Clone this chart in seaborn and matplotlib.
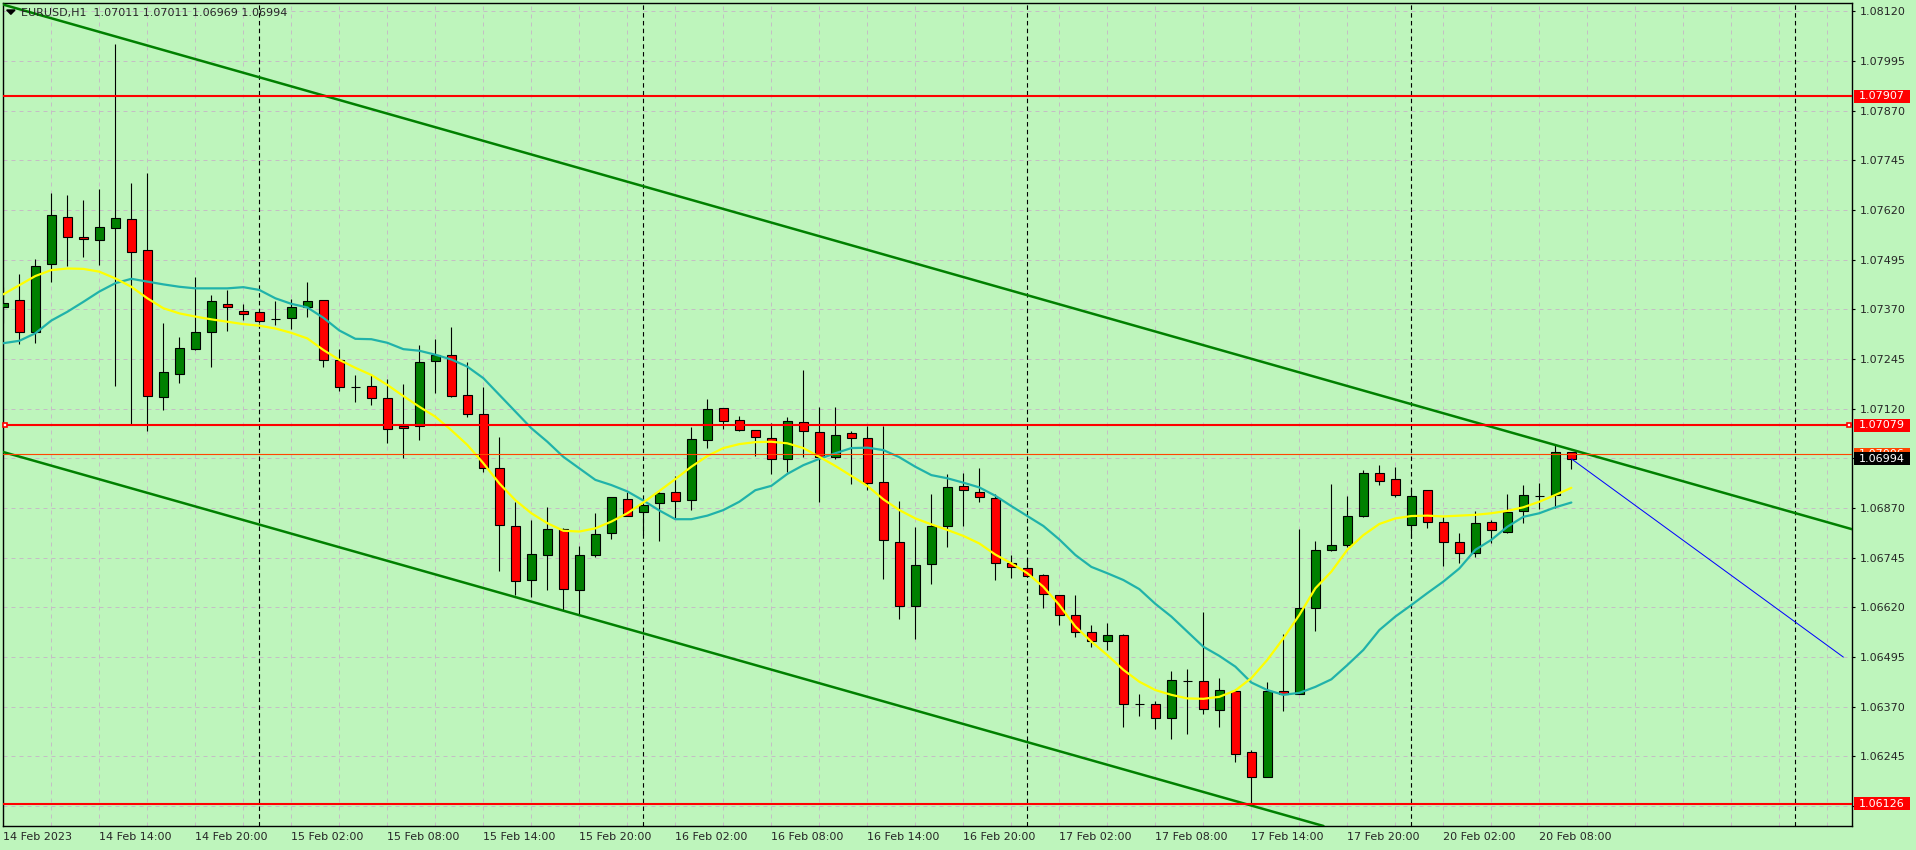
import numpy as np
import pandas as pd
import matplotlib
matplotlib.use('Agg')
import matplotlib.pyplot as plt
import matplotlib.transforms as mtransforms
from matplotlib.patches import Rectangle, Polygon
import seaborn as sns

# velas H1 do EURUSD (sem sabado/domingo)
horas = pd.date_range('2023-02-14 08:00', '2023-02-20 10:00', freq='h')
horas = horas[horas.dayofweek < 5]

opens = [1.07377, 1.07393, 1.07312, 1.07484, 1.07603, 1.07551, 1.07545, 1.07574, 1.07597, 1.07520,
         1.07150, 1.07207, 1.07271, 1.07312, 1.07383, 1.07365,
         1.07363, 1.07346, 1.07348, 1.07375, 1.07393, 1.07242, 1.07175, 1.07176, 1.07146, 1.07076,
         1.07076, 1.07239, 1.07255, 1.07154, 1.07106, 1.06971, 1.06824, 1.06688, 1.06751, 1.06817,
         1.06663, 1.06751, 1.06807, 1.06892, 1.06859, 1.06882, 1.06910, 1.06890, 1.07041, 1.07121,
         1.07091, 1.07066, 1.07046, 1.06993, 1.07086, 1.07061, 1.06998, 1.07059, 1.07046, 1.06935,
         1.06784, 1.06623, 1.06729, 1.06824, 1.06925, 1.06910, 1.06896, 1.06731, 1.06719, 1.06702,
         1.06651, 1.06600, 1.06558, 1.06536, 1.06551, 1.06378, 1.06378, 1.06341, 1.06435, 1.06434,
         1.06363, 1.06409, 1.06256, 1.06193, 1.06409, 1.06403, 1.06618, 1.06765, 1.06778, 1.06849,
         1.06958, 1.06943, 1.06827, 1.06915, 1.06834, 1.06784, 1.06757, 1.06834, 1.06811, 1.06862,
         1.06900, 1.06902, 1.07011]
highs = [1.07427, 1.07459, 1.07496, 1.07662, 1.07658, 1.07645, 1.07673, 1.08038, 1.07688, 1.07713,
         1.07337, 1.07300, 1.07452, 1.07406, 1.07419, 1.07384,
         1.07364, 1.07392, 1.07395, 1.07438, 1.07394, 1.07270, 1.07205, 1.07207, 1.07195, 1.07182,
         1.07281, 1.07296, 1.07326, 1.07238, 1.07175, 1.07049, 1.06886, 1.06840, 1.06873, 1.06819,
         1.06775, 1.06857, 1.06898, 1.06910, 1.06878, 1.06910, 1.06950, 1.07074, 1.07144, 1.07122,
         1.07102, 1.07067, 1.07085, 1.07098, 1.07218, 1.07124, 1.07124, 1.07064, 1.07076, 1.07076,
         1.06887, 1.06822, 1.06905, 1.06955, 1.06958, 1.06971, 1.06905, 1.06752, 1.06744, 1.06703,
         1.06652, 1.06652, 1.06577, 1.06582, 1.06554, 1.06402, 1.06385, 1.06460, 1.06465, 1.06609,
         1.06442, 1.06414, 1.06261, 1.06432, 1.06552, 1.06817, 1.06788, 1.06931, 1.06900, 1.06966,
         1.06978, 1.06973, 1.06921, 1.06916, 1.06847, 1.06807, 1.06863, 1.06840, 1.06905, 1.06928,
         1.06934, 1.07032, 1.07011]
lows = [1.07337, 1.07282, 1.07285, 1.07440, 1.07480, 1.07503, 1.07482, 1.07176, 1.07079, 1.07063,
        1.07117, 1.07185, 1.07268, 1.07226, 1.07316, 1.07343,
        1.07336, 1.07331, 1.07321, 1.07352, 1.07226, 1.07165, 1.07138, 1.07129, 1.07033, 1.06997,
        1.07041, 1.07160, 1.07149, 1.07098, 1.06962, 1.06712, 1.06652, 1.06645, 1.06665, 1.06614,
        1.06600, 1.06748, 1.06793, 1.06849, 1.06802, 1.06786, 1.06845, 1.06864, 1.07020, 1.07070,
        1.07063, 1.07002, 1.06957, 1.06962, 1.06999, 1.06886, 1.06993, 1.06931, 1.06916, 1.06692,
        1.06590, 1.06540, 1.06678, 1.06773, 1.06826, 1.06886, 1.06688, 1.06694, 1.06696, 1.06619,
        1.06575, 1.06546, 1.06521, 1.06512, 1.06318, 1.06347, 1.06315, 1.06290, 1.06302, 1.06353,
        1.06320, 1.06232, 1.06126, 1.06192, 1.06359, 1.06402, 1.06561, 1.06762, 1.06773, 1.06848,
        1.06929, 1.06898, 1.06794, 1.06819, 1.06725, 1.06731, 1.06748, 1.06783, 1.06808, 1.06832,
        1.06868, 1.06869, 1.06969]
closes = [1.07386, 1.07312, 1.07479, 1.07607, 1.07551, 1.07546, 1.07577, 1.07599, 1.07515, 1.07153,
          1.07212, 1.07272, 1.07312, 1.07390, 1.07375, 1.07358,
          1.07340, 1.07345, 1.07375, 1.07390, 1.07242, 1.07174, 1.07175, 1.07146, 1.07068, 1.07071,
          1.07237, 1.07255, 1.07151, 1.07106, 1.06971, 1.06827, 1.06686, 1.06754, 1.06817, 1.06666,
          1.06751, 1.06804, 1.06897, 1.06850, 1.06877, 1.06909, 1.06887, 1.07044, 1.07119, 1.07088,
          1.07066, 1.07048, 1.06993, 1.07088, 1.07064, 1.06998, 1.07054, 1.07046, 1.06932, 1.06789,
          1.06623, 1.06726, 1.06824, 1.06922, 1.06915, 1.06898, 1.06731, 1.06721, 1.06698, 1.06654,
          1.06600, 1.06558, 1.06536, 1.06551, 1.06376, 1.06377, 1.06341, 1.06437, 1.06434, 1.06365,
          1.06411, 1.06251, 1.06193, 1.06409, 1.06402, 1.06618, 1.06765, 1.06778, 1.06849, 1.06958,
          1.06939, 1.06904, 1.06901, 1.06834, 1.06784, 1.06757, 1.06832, 1.06814, 1.06859, 1.06902,
          1.06901, 1.07011, 1.06994]

# medias moveis (amarela = rapida, turquesa = lenta)
ma_rapida = [1.07408, 1.07431, 1.07454, 1.07469, 1.07473, 1.07472, 1.07465, 1.07448, 1.07427, 1.07398,
             1.07373, 1.07360, 1.07352, 1.07345, 1.07339, 1.07333,
             1.07329, 1.07322, 1.07311, 1.07297, 1.07268, 1.07243, 1.07223, 1.07205, 1.07180, 1.07152,
             1.07125, 1.07100, 1.07066, 1.07029, 1.06983, 1.06932, 1.06890, 1.06857, 1.06832, 1.06813,
             1.06811, 1.06819, 1.06836, 1.06857, 1.06884, 1.06913, 1.06943, 1.06974, 1.07001, 1.07021,
             1.07031, 1.07036, 1.07037, 1.07033, 1.07021, 1.06999, 1.06976, 1.06951, 1.06926, 1.06892,
             1.06865, 1.06844, 1.06829, 1.06815, 1.06800, 1.06781, 1.06753, 1.06731, 1.06706, 1.06672,
             1.06626, 1.06572, 1.06534, 1.06500, 1.06463, 1.06433, 1.06412, 1.06400, 1.06391, 1.06390,
             1.06395, 1.06411, 1.06442, 1.06488, 1.06542, 1.06601, 1.06668, 1.06710, 1.06765, 1.06802,
             1.06830, 1.06844, 1.06850, 1.06851, 1.06849, 1.06851, 1.06853, 1.06857, 1.06863, 1.06872,
             1.06886, 1.06903, 1.06921]
ma_lenta = [1.07285, 1.07291, 1.07310, 1.07342, 1.07364, 1.07389, 1.07415, 1.07436, 1.07447, 1.07440,
            1.07433, 1.07427, 1.07423, 1.07423, 1.07423, 1.07426,
            1.07419, 1.07398, 1.07384, 1.07375, 1.07349, 1.07317, 1.07296, 1.07295, 1.07286, 1.07270,
            1.07266, 1.07256, 1.07244, 1.07226, 1.07197, 1.07155, 1.07113, 1.07071, 1.07037, 1.06999,
            1.06970, 1.06941, 1.06928, 1.06912, 1.06889, 1.06864, 1.06842, 1.06842, 1.06851, 1.06865,
            1.06886, 1.06915, 1.06926, 1.06956, 1.06978, 1.06994, 1.07008, 1.07021, 1.07022, 1.07016,
            1.06998, 1.06974, 1.06953, 1.06945, 1.06934, 1.06922, 1.06901, 1.06875, 1.06850, 1.06825,
            1.06791, 1.06752, 1.06722, 1.06706, 1.06689, 1.06666, 1.06629, 1.06597, 1.06559, 1.06521,
            1.06498, 1.06471, 1.06431, 1.06412, 1.06400, 1.06405, 1.06420, 1.06439, 1.06475, 1.06513,
            1.06563, 1.06597, 1.06626, 1.06656, 1.06685, 1.06718, 1.06765, 1.06790, 1.06823, 1.06848,
            1.06857, 1.06872, 1.06884]

# objetos desenhados no grafico
niveis = [1.07907, 1.07079, 1.06126]
preco_ask = 1.07006
canal_x = [0, 101]
canal_sup = [1.08137, 1.06983]
canal_inf = [1.07011, 1.05859]
proj_x = [98, 115]
proj_y = [1.06994, 1.06495]

FUNDO = '#BEF5BC'
GRADE = '#C4BEC4'

sns.set_style('white', {'axes.facecolor': FUNDO, 'figure.facecolor': FUNDO})
plt.rcParams['font.family'] = ['DejaVu Sans']

fig = plt.figure(figsize=(19.16, 8.5), dpi=100, facecolor=FUNDO)
ax = fig.add_axes([2.7 / 1916, 24 / 850, 1849.6 / 1916, 823.3 / 850])
ax.set_facecolor(FUNDO)
ax.set_xlim(-0.04, 115.56)
ax.set_ylim(1.060699, 1.081419)

x = np.arange(len(horas))
o = np.array(opens); h = np.array(highs); l = np.array(lows); c = np.array(closes)

# grade pontilhada
precos_grade = np.round(np.arange(1.06120, 1.081201, 0.00125), 5)
for p in precos_grade:
    ax.axhline(p, color=GRADE, lw=0.72, ls=(0, (4, 4)), zorder=0.5)
for g in range(0, 116, 3):
    ax.axvline(g, color=GRADE, lw=0.72, ls=(0, (4, 4)), zorder=0.5)
# separadores de dia
for d in range(16, 116, 24):
    ax.axvline(d, color='black', lw=0.8, ls=(0, (4, 3)), zorder=0.8)

# velas
ax.vlines(x, l, h, color='black', lw=0.8, zorder=2)
cores = np.where(c > o, '#008000', np.where(c < o, '#FF0000', 'black'))
ax.bar(x, c - o, bottom=o, width=0.6, color=cores, edgecolor='black', linewidth=0.8, zorder=3)

# medias
sns.lineplot(x=x, y=ma_lenta, color='#20B2AA', lw=1.6, ax=ax, zorder=4)
sns.lineplot(x=x, y=ma_rapida, color='#FFFF00', lw=1.6, ax=ax, zorder=4)

# canal e linhas horizontais
ax.axline((canal_x[0], canal_sup[0]), (canal_x[1], canal_sup[1]), color='#008000', lw=1.8, zorder=5)
ax.axline((canal_x[0], canal_inf[0]), (canal_x[1], canal_inf[1]), color='#008000', lw=1.8, zorder=5)
for v in niveis:
    ax.axhline(v, color='#FF0000', lw=1.5, zorder=5)
ax.axhline(preco_ask, color='#FF4500', lw=0.8, zorder=5)
ax.plot(proj_x, proj_y, color='#0000FF', lw=0.72, zorder=5)
ax.plot([0.1, 115.35], [niveis[1], niveis[1]], ls='none', marker='s', ms=3.5,
        mfc='white', mec='#FF0000', mew=1.2, clip_on=False, zorder=6)

# eixos
ax.set_xticks(x[::6])
rotulos = [t.strftime('%d %b %H:%M') for t in horas[::6]]
rotulos[0] = horas[0].strftime('%d %b %Y')
ax.set_xticklabels(rotulos)
for t in ax.get_xticklabels():
    t.set_ha('left')
ax.yaxis.tick_right()
ax.set_yticks(precos_grade)
ax.set_yticklabels(['' if p in (1.06120, 1.06995) else f'{p:.5f}' for p in precos_grade])
ax.tick_params(axis='x', length=2.2, pad=2.2, labelsize=8, color='black', direction='out')
ax.tick_params(axis='y', length=2.2, pad=2.9, labelsize=8, color='black', direction='out')
ax.set_xlabel('')
ax.set_ylabel('')
for s in ax.spines.values():
    s.set_visible(True)
    s.set_color('black')
    s.set_linewidth(1)

# etiquetas de preco no eixo
trans = mtransforms.blended_transform_factory(ax.transAxes, ax.transData)
def etiqueta(preco, fundo, z):
    ax.add_patch(Rectangle((1.00092, preco - 0.000164), 0.03028, 0.000327, transform=trans,
                           facecolor=fundo, edgecolor='none', clip_on=False, zorder=z))
    ax.text(1.00362, preco, f'{preco:.5f}', transform=trans, color='white', fontsize=8,
            va='center', ha='left', clip_on=False, zorder=z + 1)

etiqueta(niveis[0], '#FF0000', 10)
etiqueta(niveis[1], '#FF0000', 10)
etiqueta(niveis[2], '#FF0000', 10)
etiqueta(preco_ask, '#FF4500', 10)
etiqueta(closes[-1], 'black', 12)

# titulo no canto
titulo = f'EURUSD,H1  {opens[-1]:.5f} {highs[-1]:.5f} {lows[-1]:.5f} {closes[-1]:.5f}'
fig.text(21 / 1916, 1 - 12.7 / 850, titulo, fontsize=8, va='center', ha='left')
fig.patches.append(Polygon([(6.7 / 1916, 1 - 10 / 850), (15 / 1916, 1 - 10 / 850),
                            (10.85 / 1916, 1 - 14.3 / 850)], closed=True,
                           transform=fig.transFigure, color='black'))

fig.savefig('out.png', dpi=100, facecolor=FUNDO)
